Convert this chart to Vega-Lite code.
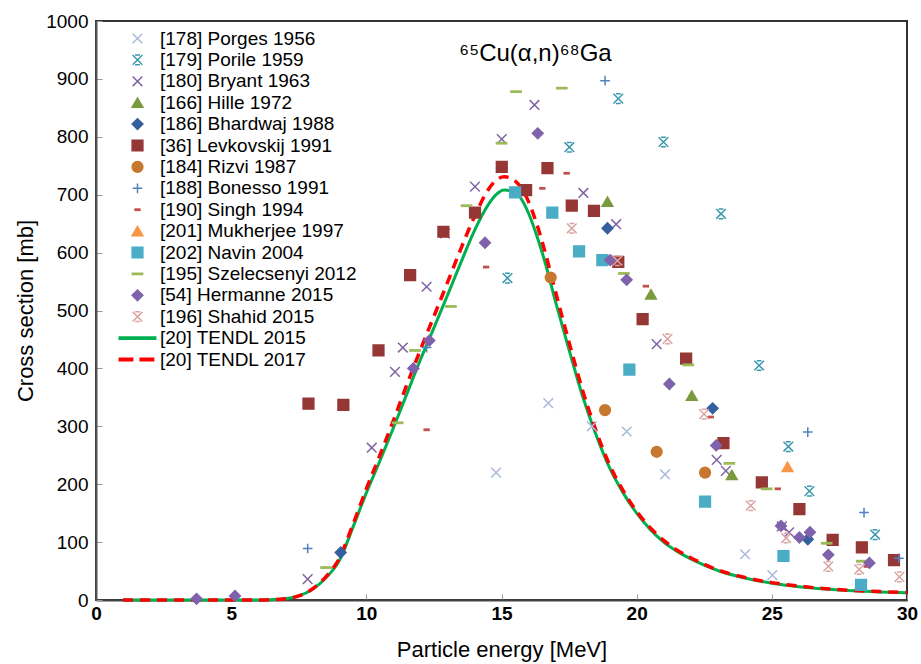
{
  "$schema": "https://vega.github.io/schema/vega-lite/v6.json",
  "autosize": "none",
  "width": 811,
  "height": 579,
  "padding": {"left": 96, "top": 21, "right": 14, "bottom": 64},
  "background": "white",
  "config": {
    "view": {"stroke": "#333333", "strokeWidth": 2},
    "font": "Liberation Sans"
  },
  "title": {
    "text": "⁶⁵Cu(α,n)⁶⁸Ga",
    "frame": "group",
    "anchor": "middle",
    "dx": 34,
    "offset": -66,
    "baseline": "middle",
    "font": "Liberation Sans",
    "fontSize": 24,
    "fontWeight": "normal",
    "color": "black"
  },
  "datasets": {
    "pts": [
      {"s": "[178] Porges 1956", "x": 14.8, "y": 220},
      {"s": "[178] Porges 1956", "x": 16.73, "y": 340},
      {"s": "[178] Porges 1956", "x": 18.34, "y": 300},
      {"s": "[178] Porges 1956", "x": 19.63, "y": 291},
      {"s": "[178] Porges 1956", "x": 21.05, "y": 217},
      {"s": "[178] Porges 1956", "x": 24.01, "y": 79},
      {"s": "[178] Porges 1956", "x": 25.02, "y": 43},
      {"s": "[179] Porile 1959", "x": 19.32, "y": 866},
      {"s": "[179] Porile 1959", "x": 20.99, "y": 791},
      {"s": "[179] Porile 1959", "x": 17.51, "y": 782},
      {"s": "[179] Porile 1959", "x": 23.12, "y": 667},
      {"s": "[179] Porile 1959", "x": 15.22, "y": 556},
      {"s": "[179] Porile 1959", "x": 24.53, "y": 405},
      {"s": "[179] Porile 1959", "x": 25.61, "y": 265},
      {"s": "[179] Porile 1959", "x": 26.39, "y": 188},
      {"s": "[179] Porile 1959", "x": 28.82, "y": 113},
      {"s": "[180] Bryant 1963", "x": 16.22, "y": 855},
      {"s": "[180] Bryant 1963", "x": 15.01, "y": 796},
      {"s": "[180] Bryant 1963", "x": 14.02, "y": 714},
      {"s": "[180] Bryant 1963", "x": 18.03, "y": 703},
      {"s": "[180] Bryant 1963", "x": 19.24, "y": 649},
      {"s": "[180] Bryant 1963", "x": 12.91, "y": 633},
      {"s": "[180] Bryant 1963", "x": 12.23, "y": 541},
      {"s": "[180] Bryant 1963", "x": 11.35, "y": 436},
      {"s": "[180] Bryant 1963", "x": 11.06, "y": 394},
      {"s": "[180] Bryant 1963", "x": 10.2, "y": 263},
      {"s": "[180] Bryant 1963", "x": 7.83, "y": 36},
      {"s": "[180] Bryant 1963", "x": 20.74, "y": 442},
      {"s": "[180] Bryant 1963", "x": 22.96, "y": 242},
      {"s": "[180] Bryant 1963", "x": 23.3, "y": 223},
      {"s": "[180] Bryant 1963", "x": 25.37, "y": 127},
      {"s": "[180] Bryant 1963", "x": 25.64, "y": 117},
      {"s": "[166] Hille 1972", "x": 18.92, "y": 688},
      {"s": "[166] Hille 1972", "x": 20.53, "y": 528},
      {"s": "[166] Hille 1972", "x": 22.04, "y": 353},
      {"s": "[166] Hille 1972", "x": 23.52, "y": 216},
      {"s": "[186] Bhardwaj 1988", "x": 9.05, "y": 82},
      {"s": "[186] Bhardwaj 1988", "x": 18.92, "y": 642},
      {"s": "[186] Bhardwaj 1988", "x": 22.81, "y": 331},
      {"s": "[186] Bhardwaj 1988", "x": 26.33, "y": 105},
      {"s": "[36] Levkovskij 1991", "x": 7.86, "y": 339},
      {"s": "[36] Levkovskij 1991", "x": 9.15, "y": 337},
      {"s": "[36] Levkovskij 1991", "x": 10.45, "y": 431},
      {"s": "[36] Levkovskij 1991", "x": 11.62, "y": 561},
      {"s": "[36] Levkovskij 1991", "x": 12.85, "y": 636},
      {"s": "[36] Levkovskij 1991", "x": 14.02, "y": 669},
      {"s": "[36] Levkovskij 1991", "x": 15.01, "y": 748},
      {"s": "[36] Levkovskij 1991", "x": 15.91, "y": 708},
      {"s": "[36] Levkovskij 1991", "x": 16.7, "y": 746},
      {"s": "[36] Levkovskij 1991", "x": 17.6, "y": 681},
      {"s": "[36] Levkovskij 1991", "x": 18.42, "y": 672},
      {"s": "[36] Levkovskij 1991", "x": 19.32, "y": 584},
      {"s": "[36] Levkovskij 1991", "x": 20.22, "y": 485},
      {"s": "[36] Levkovskij 1991", "x": 21.83, "y": 417},
      {"s": "[36] Levkovskij 1991", "x": 23.21, "y": 271},
      {"s": "[36] Levkovskij 1991", "x": 24.63, "y": 203},
      {"s": "[36] Levkovskij 1991", "x": 26.02, "y": 157},
      {"s": "[36] Levkovskij 1991", "x": 27.25, "y": 104},
      {"s": "[36] Levkovskij 1991", "x": 28.33, "y": 91},
      {"s": "[36] Levkovskij 1991", "x": 29.52, "y": 69},
      {"s": "[184] Rizvi 1987", "x": 16.82, "y": 557},
      {"s": "[184] Rizvi 1987", "x": 18.83, "y": 328},
      {"s": "[184] Rizvi 1987", "x": 20.74, "y": 256},
      {"s": "[184] Rizvi 1987", "x": 22.53, "y": 220},
      {"s": "[188] Bonesso 1991", "x": 7.83, "y": 89},
      {"s": "[188] Bonesso 1991", "x": 12.23, "y": 436},
      {"s": "[188] Bonesso 1991", "x": 18.83, "y": 897},
      {"s": "[188] Bonesso 1991", "x": 26.33, "y": 290},
      {"s": "[188] Bonesso 1991", "x": 28.41, "y": 151},
      {"s": "[188] Bonesso 1991", "x": 29.7, "y": 72},
      {"s": "[190] Singh 1994", "x": 14.43, "y": 575},
      {"s": "[190] Singh 1994", "x": 12.23, "y": 294},
      {"s": "[190] Singh 1994", "x": 17.41, "y": 737},
      {"s": "[190] Singh 1994", "x": 16.51, "y": 711},
      {"s": "[190] Singh 1994", "x": 20.34, "y": 542},
      {"s": "[190] Singh 1994", "x": 22.74, "y": 316},
      {"s": "[190] Singh 1994", "x": 25.22, "y": 192},
      {"s": "[190] Singh 1994", "x": 28.51, "y": 58},
      {"s": "[201] Mukherjee 1997", "x": 25.58, "y": 230},
      {"s": "[202] Navin 2004", "x": 15.5, "y": 704},
      {"s": "[202] Navin 2004", "x": 16.88, "y": 669},
      {"s": "[202] Navin 2004", "x": 17.87, "y": 602},
      {"s": "[202] Navin 2004", "x": 18.73, "y": 587},
      {"s": "[202] Navin 2004", "x": 19.73, "y": 398},
      {"s": "[202] Navin 2004", "x": 22.53, "y": 170},
      {"s": "[202] Navin 2004", "x": 25.43, "y": 76},
      {"s": "[202] Navin 2004", "x": 28.3, "y": 26},
      {"s": "[195] Szelecsenyi 2012", "x": 8.51, "y": 56},
      {"s": "[195] Szelecsenyi 2012", "x": 11.16, "y": 306},
      {"s": "[195] Szelecsenyi 2012", "x": 11.8, "y": 431},
      {"s": "[195] Szelecsenyi 2012", "x": 13.13, "y": 507},
      {"s": "[195] Szelecsenyi 2012", "x": 13.71, "y": 681},
      {"s": "[195] Szelecsenyi 2012", "x": 15.0, "y": 789},
      {"s": "[195] Szelecsenyi 2012", "x": 15.54, "y": 878},
      {"s": "[195] Szelecsenyi 2012", "x": 17.23, "y": 884},
      {"s": "[195] Szelecsenyi 2012", "x": 19.53, "y": 564},
      {"s": "[195] Szelecsenyi 2012", "x": 21.91, "y": 406},
      {"s": "[195] Szelecsenyi 2012", "x": 23.43, "y": 236},
      {"s": "[195] Szelecsenyi 2012", "x": 24.81, "y": 192},
      {"s": "[195] Szelecsenyi 2012", "x": 27.03, "y": 98},
      {"s": "[195] Szelecsenyi 2012", "x": 28.33, "y": 67},
      {"s": "[54] Hermanne 2015", "x": 3.72, "y": 2},
      {"s": "[54] Hermanne 2015", "x": 5.14, "y": 7},
      {"s": "[54] Hermanne 2015", "x": 11.74, "y": 400},
      {"s": "[54] Hermanne 2015", "x": 12.33, "y": 448},
      {"s": "[54] Hermanne 2015", "x": 14.39, "y": 617},
      {"s": "[54] Hermanne 2015", "x": 16.34, "y": 806},
      {"s": "[54] Hermanne 2015", "x": 19.02, "y": 587},
      {"s": "[54] Hermanne 2015", "x": 19.63, "y": 553},
      {"s": "[54] Hermanne 2015", "x": 21.21, "y": 373},
      {"s": "[54] Hermanne 2015", "x": 22.94, "y": 267},
      {"s": "[54] Hermanne 2015", "x": 25.34, "y": 128},
      {"s": "[54] Hermanne 2015", "x": 26.02, "y": 108},
      {"s": "[54] Hermanne 2015", "x": 26.41, "y": 117},
      {"s": "[54] Hermanne 2015", "x": 27.09, "y": 78},
      {"s": "[54] Hermanne 2015", "x": 28.61, "y": 64},
      {"s": "[196] Shahid 2015", "x": 17.6, "y": 642},
      {"s": "[196] Shahid 2015", "x": 19.29, "y": 586},
      {"s": "[196] Shahid 2015", "x": 21.14, "y": 451},
      {"s": "[196] Shahid 2015", "x": 22.49, "y": 321},
      {"s": "[196] Shahid 2015", "x": 24.22, "y": 163},
      {"s": "[196] Shahid 2015", "x": 25.53, "y": 107},
      {"s": "[196] Shahid 2015", "x": 27.09, "y": 58},
      {"s": "[196] Shahid 2015", "x": 28.23, "y": 53},
      {"s": "[196] Shahid 2015", "x": 29.72, "y": 40}
    ],
    "t15": [
      {"x": 1, "y": 0}, {"x": 2, "y": 0}, {"x": 3, "y": 0}, {"x": 4, "y": 0}, {"x": 5, "y": 0}, {"x": 6, "y": 0},
      {"x": 6.5, "y": 0.5}, {"x": 7, "y": 2}, {"x": 7.5, "y": 7}, {"x": 8, "y": 18}, {"x": 8.5, "y": 38},
      {"x": 9, "y": 68}, {"x": 9.5, "y": 125}, {"x": 10, "y": 185}, {"x": 10.5, "y": 240}, {"x": 11, "y": 297},
      {"x": 11.5, "y": 356}, {"x": 12, "y": 415}, {"x": 12.5, "y": 470}, {"x": 13, "y": 526}, {"x": 13.5, "y": 583},
      {"x": 14, "y": 638}, {"x": 14.5, "y": 682}, {"x": 14.8, "y": 700}, {"x": 15.1, "y": 708}, {"x": 15.4, "y": 706},
      {"x": 15.7, "y": 695}, {"x": 16, "y": 668}, {"x": 16.3, "y": 630}, {"x": 16.6, "y": 585}, {"x": 17, "y": 515},
      {"x": 17.5, "y": 432}, {"x": 18, "y": 352}, {"x": 18.5, "y": 285}, {"x": 19, "y": 228}, {"x": 19.5, "y": 185},
      {"x": 20, "y": 150}, {"x": 20.5, "y": 122}, {"x": 21, "y": 100}, {"x": 21.5, "y": 84}, {"x": 22, "y": 71},
      {"x": 23, "y": 51}, {"x": 24, "y": 38}, {"x": 25, "y": 29}, {"x": 26, "y": 23}, {"x": 27, "y": 19},
      {"x": 28, "y": 16}, {"x": 29, "y": 14}, {"x": 30, "y": 12.5}
    ],
    "t17": [
      {"x": 1, "y": 0}, {"x": 2, "y": 0}, {"x": 3, "y": 0}, {"x": 4, "y": 0}, {"x": 5, "y": 0}, {"x": 6, "y": 0},
      {"x": 6.5, "y": 0.5}, {"x": 7, "y": 2}, {"x": 7.5, "y": 7}, {"x": 8, "y": 19}, {"x": 8.5, "y": 40},
      {"x": 9, "y": 72}, {"x": 9.5, "y": 130}, {"x": 10, "y": 192}, {"x": 10.5, "y": 250}, {"x": 11, "y": 310},
      {"x": 11.5, "y": 372}, {"x": 12, "y": 432}, {"x": 12.5, "y": 490}, {"x": 13, "y": 548}, {"x": 13.5, "y": 607},
      {"x": 14, "y": 662}, {"x": 14.5, "y": 708}, {"x": 14.8, "y": 725}, {"x": 15.1, "y": 731}, {"x": 15.4, "y": 727},
      {"x": 15.7, "y": 714}, {"x": 16, "y": 688}, {"x": 16.3, "y": 650}, {"x": 16.6, "y": 603}, {"x": 17, "y": 532},
      {"x": 17.5, "y": 445}, {"x": 18, "y": 362}, {"x": 18.5, "y": 292}, {"x": 19, "y": 233}, {"x": 19.5, "y": 189},
      {"x": 20, "y": 153}, {"x": 20.5, "y": 125}, {"x": 21, "y": 103}, {"x": 21.5, "y": 86}, {"x": 22, "y": 73},
      {"x": 23, "y": 52}, {"x": 24, "y": 39}, {"x": 25, "y": 30}, {"x": 26, "y": 24}, {"x": 27, "y": 19.5},
      {"x": 28, "y": 16.5}, {"x": 29, "y": 14.5}, {"x": 30, "y": 13}
    ]
  },
  "encoding": {
    "x": {
      "field": "x", "type": "quantitative",
      "scale": {"domain": [0, 30], "nice": false, "zero": false},
      "axis": {
        "title": "Particle energy [MeV]",
        "values": [0, 5, 10, 15, 20, 25, 30],
        "format": "d",
        "grid": false,
        "domainColor": "#444444", "domainWidth": 2,
        "tickColor": "#999999", "tickSize": -6, "tickWidth": 1,
        "labelFont": "Liberation Sans", "labelFontSize": 19, "labelFontWeight": "bold", "labelColor": "black",
        "labelPadding": 10,
        "labelFlush": false,
        "titleFont": "Liberation Sans", "titleFontSize": 22, "titleFontWeight": "normal", "titleColor": "black",
        "titlePadding": 16
      }
    },
    "y": {
      "field": "y", "type": "quantitative",
      "scale": {"domain": [0, 1000], "nice": false},
      "axis": {
        "title": "Cross section [mb]",
        "values": [0, 100, 200, 300, 400, 500, 600, 700, 800, 900, 1000],
        "format": "d",
        "grid": false,
        "domainColor": "#555555", "domainWidth": 2,
        "tickColor": "#999999", "tickSize": -6, "tickWidth": 1,
        "labelFont": "Liberation Sans", "labelFontSize": 19, "labelColor": "black",
        "labelPadding": 14,
        "labelFlush": false,
        "titleFont": "Liberation Sans", "titleFontSize": 22, "titleFontWeight": "normal", "titleColor": "black",
        "titlePadding": 8
      }
    }
  },
  "layer": [
    {
      "data": {"name": "t15"},
      "mark": {"type": "line", "color": "#00b050", "strokeWidth": 3, "interpolate": "monotone"},
      "encoding": {}
    },
    {
      "data": {"name": "t17"},
      "mark": {"type": "line", "color": "#ff0000", "strokeWidth": 3.5, "strokeDash": [10, 7], "interpolate": "monotone"},
      "encoding": {}
    },
    {
      "data": {"name": "pts"},
      "mark": {"type": "point", "filled": true, "opacity": 1, "strokeWidth": 1.5, "size": 115},
      "encoding": {
        "fill": {
          "field": "s", "type": "nominal",
          "scale": {
            "domain": ["[178] Porges 1956", "[179] Porile 1959", "[180] Bryant 1963", "[166] Hille 1972", "[186] Bhardwaj 1988", "[36] Levkovskij 1991", "[184] Rizvi 1987", "[188] Bonesso 1991", "[190] Singh 1994", "[201] Mukherjee 1997", "[202] Navin 2004", "[195] Szelecsenyi 2012", "[54] Hermanne 2015", "[196] Shahid 2015", "[20] TENDL 2015", "[20] TENDL 2017"],
            "range": ["#aab9dc", "#3a98ae", "#7f65a3", "#7a9a3e", "#355f9f", "#953735", "#c7782f", "#4f81bd", "#c0504d", "#f79646", "#4bacc6", "#9bbb59", "#7f62ab", "#dba4a2", "#00b050", "#ff0000"]
          },
          "legend": {
            "orient": "none", "legendX": 32, "legendY": 8, "title": null,
            "labelFont": "Liberation Sans", "labelFontSize": 19, "labelColor": "black", "labelLimit": 0,
            "labelOffset": 13, "padding": 0, "rowPadding": 1.4, "symbolSize": 115, "symbolStrokeWidth": 1.5,
            "symbolOffset": 0, "symbolLimit": 0
          }
        },
        "stroke": {
          "field": "s", "type": "nominal",
          "scale": {
            "domain": ["[178] Porges 1956", "[179] Porile 1959", "[180] Bryant 1963", "[166] Hille 1972", "[186] Bhardwaj 1988", "[36] Levkovskij 1991", "[184] Rizvi 1987", "[188] Bonesso 1991", "[190] Singh 1994", "[201] Mukherjee 1997", "[202] Navin 2004", "[195] Szelecsenyi 2012", "[54] Hermanne 2015", "[196] Shahid 2015", "[20] TENDL 2015", "[20] TENDL 2017"],
            "range": ["#aab9dc", "#3a98ae", "#7f65a3", "#7a9a3e", "#355f9f", "#953735", "#c7782f", "#4f81bd", "#c0504d", "#f79646", "#4bacc6", "#9bbb59", "#7f62ab", "#dba4a2", "#00b050", "#ff0000"]
          },
          "legend": {
            "orient": "none", "legendX": 32, "legendY": 8, "title": null,
            "labelFont": "Liberation Sans", "labelFontSize": 19, "labelColor": "black", "labelLimit": 0,
            "labelOffset": 13, "padding": 0, "rowPadding": 1.4, "symbolSize": 115, "symbolStrokeWidth": 1.5,
            "symbolOffset": 0, "symbolLimit": 0
          }
        },
        "shape": {
          "field": "s", "type": "nominal",
          "scale": {
            "domain": ["[178] Porges 1956", "[179] Porile 1959", "[180] Bryant 1963", "[166] Hille 1972", "[186] Bhardwaj 1988", "[36] Levkovskij 1991", "[184] Rizvi 1987", "[188] Bonesso 1991", "[190] Singh 1994", "[201] Mukherjee 1997", "[202] Navin 2004", "[195] Szelecsenyi 2012", "[54] Hermanne 2015", "[196] Shahid 2015", "[20] TENDL 2015", "[20] TENDL 2017"],
            "range": [
              "M-0.9,-0.9L0.9,0.9M-0.9,0.9L0.9,-0.9",
              "M-0.9,-0.9L0.9,0.9M-0.9,0.9L0.9,-0.9M-0.45,-0.9L0.45,-0.9M-0.45,0.9L0.45,0.9",
              "M-0.9,-0.9L0.9,0.9M-0.9,0.9L0.9,-0.9",
              "triangle-up",
              "diamond",
              "square",
              "circle",
              "M-0.9,0L0.9,0M0,-0.9L0,0.9",
              "M-0.45,-0.12L0.45,-0.12L0.45,0.12L-0.45,0.12Z",
              "triangle-up",
              "square",
              "M-0.95,-0.12L0.95,-0.12L0.95,0.12L-0.95,0.12Z",
              "diamond",
              "M-0.9,-0.9L0.9,0.9M-0.9,0.9L0.9,-0.9M-0.45,-0.9L0.45,-0.9M-0.45,0.9L0.45,0.9",
              "M-3.4,-0.22L3.4,-0.22L3.4,0.22L-3.4,0.22Z",
              "M-3.4,-0.22L-0.9,-0.22L-0.9,0.22L-3.4,0.22Z M0.5,-0.22L3.0,-0.22L3.0,0.22L0.5,0.22Z"
            ]
          },
          "legend": {
            "orient": "none", "legendX": 32, "legendY": 8, "title": null,
            "labelFont": "Liberation Sans", "labelFontSize": 19, "labelColor": "black", "labelLimit": 0,
            "labelOffset": 13, "padding": 0, "rowPadding": 1.4, "symbolSize": 115, "symbolStrokeWidth": 1.5,
            "symbolOffset": 0, "symbolLimit": 0
          }
        }
      }
    }
  ]
}
